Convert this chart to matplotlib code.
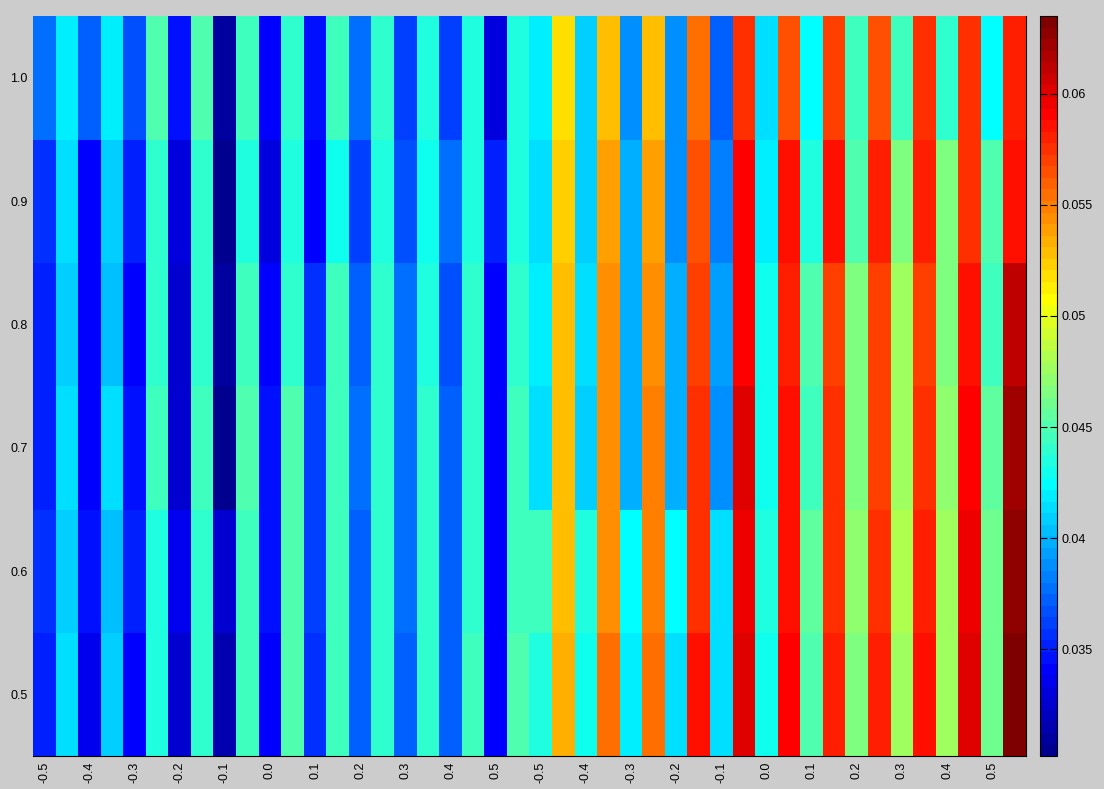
import numpy as np
import matplotlib
matplotlib.use("Agg")
import matplotlib.pyplot as plt
from matplotlib.colors import ListedColormap

plt.rcParams['font.family'] = ['Liberation Sans', 'DejaVu Sans']

# rows read top (y=1.0) to bottom (y=0.5), 44 columns each
row_10 = [.0377, .0419, .0372, .0419, .0367, .0450, .0346, .0450, .0310, .0445, .0341,
          .0440, .0346, .0445, .0377, .0440, .0362, .0435, .0362, .0435, .0331, .0435,
          .0419, .0518, .0409, .0528, .0388, .0528, .0388, .0554, .0372, .0575, .0414,
          .0565, .0424, .0570, .0445, .0565, .0445, .0575, .0440, .0575, .0424, .0580]
row_09 = [.0357, .0414, .0341, .0409, .0351, .0440, .0331, .0440, .0305, .0435, .0331,
          .0435, .0341, .0429, .0362, .0435, .0367, .0429, .0377, .0435, .0351, .0435,
          .0414, .0523, .0409, .0539, .0398, .0539, .0388, .0565, .0383, .0591, .0419,
          .0585, .0435, .0585, .0450, .0580, .0466, .0580, .0466, .0575, .0450, .0585]
row_08 = [.0351, .0409, .0341, .0403, .0341, .0440, .0325, .0440, .0310, .0445, .0341,
          .0440, .0357, .0445, .0372, .0440, .0377, .0435, .0367, .0440, .0341, .0440,
          .0419, .0528, .0414, .0544, .0398, .0544, .0398, .0570, .0393, .0591, .0429,
          .0580, .0450, .0570, .0466, .0570, .0476, .0570, .0466, .0585, .0445, .0611]
row_07 = [.0351, .0414, .0341, .0414, .0346, .0445, .0325, .0445, .0305, .0450, .0346,
          .0450, .0362, .0445, .0377, .0440, .0377, .0440, .0372, .0440, .0341, .0445,
          .0414, .0528, .0409, .0544, .0398, .0549, .0398, .0575, .0388, .0601, .0429,
          .0585, .0445, .0575, .0466, .0570, .0476, .0575, .0471, .0591, .0455, .0622]
row_06 = [.0357, .0409, .0346, .0403, .0351, .0435, .0336, .0440, .0325, .0445, .0346,
          .0450, .0362, .0445, .0372, .0440, .0377, .0440, .0372, .0440, .0341, .0445,
          .0445, .0528, .0435, .0544, .0424, .0549, .0424, .0575, .0414, .0596, .0435,
          .0585, .0455, .0575, .0471, .0575, .0481, .0580, .0476, .0596, .0461, .0627]
row_05 = [.0351, .0414, .0336, .0409, .0341, .0435, .0325, .0440, .0315, .0445, .0341,
          .0450, .0357, .0445, .0372, .0440, .0372, .0440, .0372, .0445, .0341, .0450,
          .0435, .0533, .0429, .0554, .0419, .0554, .0414, .0585, .0414, .0601, .0429,
          .0591, .0450, .0580, .0466, .0580, .0476, .0585, .0476, .0601, .0461, .0632]

y_vals = [0.5, 0.6, 0.7, 0.8, 0.9, 1.0]
x_labels = ['-0.5', '-0.4', '-0.3', '-0.2', '-0.1', '0.0', '0.1', '0.2', '0.3', '0.4', '0.5'] * 2
cbar_ticks = [0.035, 0.04, 0.045, 0.05, 0.055, 0.06]
vmin, vmax = 0.0302, 0.0635

Z = np.array([row_05, row_06, row_07, row_08, row_09, row_10])

# matlab style jet(64)
m, n = 64, 16
u = np.concatenate([np.arange(1, n + 1) / n, np.ones(n - 1), np.arange(n, 0, -1) / n])
g = 8 + np.arange(1, len(u) + 1)
rgb = np.zeros((m, 3))
for ch, idx in enumerate([g + n, g, g - n]):
    ok = (idx >= 1) & (idx <= m)
    rgb[idx[ok] - 1, ch] = u[ok]
cmap = ListedColormap(rgb)

bg = '#cccccc'
fig = plt.figure(figsize=(11.04, 7.89), dpi=100, facecolor=bg)
ax = fig.add_axes([33 / 1104, 33 / 789, 993 / 1104, 740 / 789])
cax = fig.add_axes([1040 / 1104, 33 / 789, 17 / 1104, 740 / 789])

im = ax.imshow(Z, cmap=cmap, vmin=vmin, vmax=vmax, origin='lower', aspect='auto',
               interpolation='nearest', extent=[-0.5, Z.shape[1] - 0.5, 0.45, 1.05])

ax.set_xticks(np.arange(0, Z.shape[1], 2))
ax.set_xticklabels(x_labels, rotation=90, fontsize=9)
ax.set_yticks(y_vals)
ax.set_yticklabels(['%.1f' % v for v in y_vals], fontsize=9)
ax.tick_params(length=0, pad=4)
ax.spines['top'].set_visible(False)
ax.spines['left'].set_visible(False)

cb = fig.colorbar(im, cax=cax, ticks=cbar_ticks)
cb.ax.set_yticklabels(['0.035', '0.04', '0.045', '0.05', '0.055', '0.06'])
cb.ax.tick_params(direction='in', length=5, labelsize=9, left=True, right=True, width=0.8)
cb.outline.set_linewidth(0.8)

fig.savefig('out.png', dpi=100, facecolor=bg)
